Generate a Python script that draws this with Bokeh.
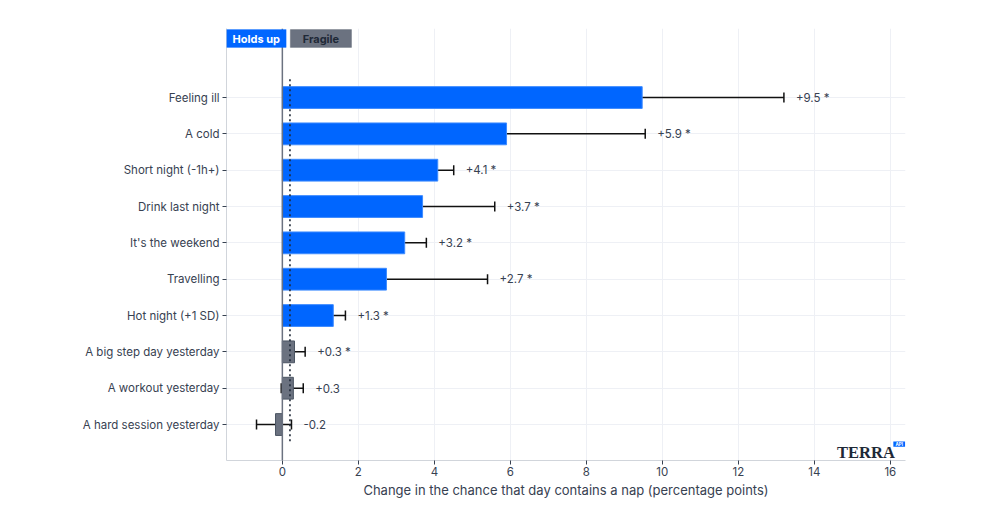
from bokeh.plotting import figure
from bokeh.models import (ColumnDataSource, Range1d, FixedTicker, Whisker, TeeHead,
                          BoxAnnotation, Label, LabelSet, Span)
from bokeh.core.properties import value
from bokeh.embed import file_html
from bokeh.resources import INLINE

# ---- data ----
categories = ["Feeling ill", "A cold", "Short night (-1h+)", "Drink last night",
              "It's the weekend", "Travelling", "Hot night (+1 SD)",
              "A big step day yesterday", "A workout yesterday", "A hard session yesterday"]
effects = [9.47, 5.9, 4.09, 3.69, 3.22, 2.74, 1.34, 0.32, 0.29, -0.18]
ci_low = [5.74, 2.29, 3.68, 1.77, 2.67, 0.10, 1.03, 0.03, -0.03, -0.68]
ci_high = [13.2, 9.55, 4.51, 5.59, 3.79, 5.40, 1.66, 0.60, 0.55, 0.24]
significant = [True, True, True, True, True, True, True, True, False, False]
robust = ["Holds up", "Holds up", "Holds up", "Holds up", "Holds up", "Holds up",
          "Holds up", "Fragile", "Fragile", "Fragile"]
reference_value = 0.2
x_ticks = [0, 2, 4, 6, 8, 10, 12, 14, 16]

FONT = "Inter"
BLUE = "#0066ff"
GRAY = "#6b7280"
TEXT = "#374151"

rows = list(range(len(categories)))
colors = [BLUE if r == "Holds up" else GRAY for r in robust]
edges = ["#3d8bff" if r == "Holds up" else "#4b5563" for r in robust]
labels = [f"{v:+.1f}" + (" *" if s else "") for v, s in zip(effects, significant)]

src = ColumnDataSource(dict(y=rows, v=effects, lo=ci_low, hi=ci_high, c=colors,
                            e=edges, lab=labels, cat=categories))

p = figure(width=984, height=509, output_backend="svg", toolbar_location=None,
           x_range=Range1d(-1.47, 16.4), y_range=Range1d(len(categories) - 0.01, -1.9),
           min_border_left=226, min_border_right=79, min_border_top=28, min_border_bottom=49)
p.outline_line_color = None
p.background_fill_color = "white"

# bars
p.hbar(y="y", left=0, right="v", height=0.6, source=src, fill_color="c",
       line_color="e", line_width=1)

# zero line
p.add_layout(Span(location=0, dimension="height", line_color="#6b7280", line_width=1.5))

# reference dotted line
p.segment(x0=[reference_value], x1=[reference_value], y0=[-0.5], y1=[len(categories) - 0.5],
          line_color="#1f2937", line_width=1.6, line_dash="2 3")

# error bars
w = Whisker(source=src, base="y", lower="lo", upper="hi", dimension="width",
            line_color="#111111", line_width=1.5,
            lower_head=TeeHead(size=10, line_color="#111111", line_width=1.5),
            upper_head=TeeHead(size=10, line_color="#111111", line_width=1.5))
p.add_layout(w)

# value labels
ls = LabelSet(x="hi", y="y", text="lab", source=src, x_offset=12, text_baseline="middle",
              text_font=value(FONT), text_font_size="11.5px", text_color=TEXT)
p.add_layout(ls)

# legend chips
p.add_layout(BoxAnnotation(left=-1.47, right=0.1, top=-1.87, bottom=-1.38,
                           fill_color=BLUE, fill_alpha=1, line_color=BLUE, line_width=1, level="overlay"))
p.add_layout(BoxAnnotation(left=0.21, right=1.82, top=-1.87, bottom=-1.38,
                           fill_color=GRAY, fill_alpha=1, line_color="#4b5563", line_width=1, level="overlay"))
p.add_layout(Label(x=-0.685, y=-1.62, text="Holds up", text_align="center", text_baseline="middle",
                   text_font=FONT, text_font_style="bold", text_font_size="11px",
                   text_color="white", level="overlay"))
p.add_layout(Label(x=1.015, y=-1.62, text="Fragile", text_align="center", text_baseline="middle",
                   text_font=FONT, text_font_style="bold", text_font_size="11px",
                   text_color="#1f2937", level="overlay"))

# logo
p.add_layout(Label(x=14.6, y=9.77, text="TERRA", text_align="left", text_baseline="alphabetic",
                   text_font="Liberation Serif", text_font_style="bold", text_font_size="16.5px",
                   text_color="#1f2937", level="overlay"))
p.add_layout(BoxAnnotation(left=16.08, right=16.39, top=9.47, bottom=9.61,
                           fill_color=BLUE, fill_alpha=1, line_color=None, level="overlay"))
p.add_layout(Label(x=16.235, y=9.54, text="API", text_align="center", text_baseline="middle",
                   text_font=FONT, text_font_style="bold", text_font_size="4.5px",
                   text_color="white", level="overlay"))

# axes
p.yaxis.ticker = FixedTicker(ticks=rows)
p.yaxis.major_label_overrides = {i: c for i, c in zip(rows, categories)}
p.xaxis.ticker = FixedTicker(ticks=x_ticks)
p.xaxis.axis_label = "Change in the chance that day contains a nap (percentage points)"
for ax in (p.xaxis[0], p.yaxis[0]):
    ax.axis_line_color = "#d1d5db"
    ax.major_tick_line_color = TEXT
    ax.major_tick_out = 4
    ax.major_tick_in = 0
    ax.minor_tick_line_color = None
    ax.major_label_text_font = FONT
    ax.major_label_text_font_size = "11.5px"
    ax.major_label_text_color = TEXT
p.xaxis.axis_label_text_font = FONT
p.xaxis.axis_label_text_font_size = "13px"
p.xaxis.axis_label_text_font_style = "normal"
p.xaxis.axis_label_text_color = TEXT
p.xaxis.axis_label_standoff = 3
p.xaxis.major_label_standoff = 2
p.yaxis.major_label_standoff = 3

p.xgrid.grid_line_color = "#eef0f5"
p.ygrid.grid_line_color = "#eef0f5"
p.xgrid.ticker = FixedTicker(ticks=x_ticks)
p.ygrid.ticker = FixedTicker(ticks=rows)

open("out.html", "w").write(file_html(p, INLINE))
